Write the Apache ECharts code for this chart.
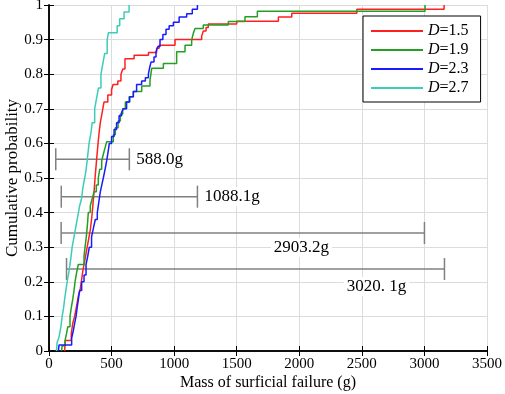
<!DOCTYPE html>
<html>
<head>
<meta charset="utf-8">
<script src="https://cdn.jsdelivr.net/npm/echarts@6/dist/echarts.min.js"></script>
<style>
  html, body { margin: 0; padding: 0; background: #fff; }
  #chart { width: 505px; height: 394px; }
</style>
</head>
<body>
<div id="chart"></div>
<script>
// step points: [mass (g), cumulative probability]
const d15 = [[125,0],[130,0.03],[178,0.05],[190,0.08],[205,0.1],[220,0.13],[235,0.16],[250,0.18],[258,0.2],[270,0.23],[285,0.26],[300,0.29],[315,0.32],[330,0.35],[340,0.38],[348,0.41],[355,0.44],[362,0.47],[368,0.5],[375,0.53],[382,0.56],[392,0.6],[400,0.63],[410,0.66],[425,0.69],[440,0.72],[470,0.74],[500,0.755],[512,0.77],[550,0.78],[575,0.8],[590,0.815],[607,0.845],[680,0.855],[795,0.863],[860,0.875],[880,0.884],[1007,0.9],[1220,0.91],[1233,0.925],[1255,0.935],[1273,0.945],[1500,0.953],[1833,0.965],[1940,0.976],[2460,0.988],[3157,1.0]];
const d19 = [[100,0],[105,0.015],[128,0.03],[140,0.05],[150,0.07],[168,0.1],[178,0.125],[190,0.15],[200,0.175],[208,0.2],[220,0.225],[234,0.25],[280,0.275],[288,0.3],[298,0.33],[306,0.36],[314,0.4],[330,0.42],[345,0.44],[360,0.46],[378,0.48],[394,0.5],[405,0.525],[421,0.55],[435,0.57],[450,0.59],[461,0.605],[514,0.625],[530,0.645],[552,0.665],[570,0.685],[589,0.7],[610,0.72],[640,0.735],[674,0.75],[741,0.766],[807,0.783],[821,0.817],[914,0.831],[1020,0.865],[1087,0.884],[1140,0.899],[1153,0.918],[1167,0.932],[1233,0.942],[1433,0.952],[1566,0.966],[1665,0.982],[3005,1.0]];
const d23 = [[75,0],[80,0.017],[181,0.037],[195,0.06],[205,0.08],[216,0.1],[225,0.125],[235,0.15],[245,0.175],[261,0.2],[280,0.22],[296,0.25],[310,0.275],[322,0.3],[340,0.33],[355,0.355],[370,0.38],[386,0.4],[398,0.43],[410,0.46],[425,0.485],[434,0.5],[448,0.525],[461,0.55],[472,0.575],[482,0.6],[500,0.62],[520,0.64],[540,0.66],[560,0.68],[580,0.69],[594,0.7],[620,0.72],[645,0.735],[674,0.75],[700,0.77],[740,0.78],[770,0.79],[794,0.8],[805,0.82],[815,0.835],[839,0.85],[855,0.865],[870,0.88],[887,0.9],[910,0.915],[935,0.93],[960,0.94],[994,0.95],[1040,0.965],[1100,0.975],[1145,0.988],[1186,1.0]];
const d27 = [[60,0],[65,0.025],[80,0.04],[95,0.07],[105,0.1],[115,0.12],[125,0.15],[135,0.175],[145,0.2],[160,0.23],[175,0.27],[185,0.3],[200,0.33],[215,0.36],[230,0.39],[245,0.42],[260,0.44],[270,0.47],[285,0.5],[295,0.52],[305,0.55],[320,0.6],[335,0.63],[345,0.66],[365,0.7],[380,0.73],[395,0.76],[415,0.8],[430,0.83],[445,0.86],[465,0.9],[475,0.92],[545,0.94],[565,0.96],[600,0.98],[640,1.0]];

const seriesNames = ['D=1.5', 'D=1.9', 'D=2.3', 'D=2.7'];
const seriesColors = ['#ff1f1f', '#22a022', '#1a1aff', '#3ccdb8'];

// range bars
const barLevels = [0.554, 0.446, 0.341, 0.237];
const barStarts = [54, 98, 97, 140];
const barEnds = [642, 1186.1, 3000.2, 3160.1];
const barLabels = ['588.0g', '1088.1g', '2903.2g', '3020. 1g'];

const FONT = '"Liberation Serif", "Times New Roman", serif';

// label placement (px) relative to the right cap
const labelDx = [4, 4, -123, -68];
const labelDy = [0, 0, 5, 8];

const chart = echarts.init(document.getElementById('chart'));

const lineSeries = [d15, d19, d23, d27].map((d, i) => ({
    name: seriesNames[i],
    type: 'line',
    step: 'end',
    data: d,
    symbol: 'none',
    lineStyle: { color: seriesColors[i], width: 1.5 },
    itemStyle: { color: seriesColors[i] },
    z: 3,
}));

const barSeries = {
    type: 'custom',
    data: barLevels.map((y, i) => [barStarts[i], barEnds[i], y]),
    encode: { x: [0, 1], y: 2 },
    z: 2,
    renderItem: (params, api) => {
        const i = params.dataIndex;
        const p0 = api.coord([api.value(0), api.value(2)]);
        const p1 = api.coord([api.value(1), api.value(2)]);
        const st = { stroke: '#808080', lineWidth: 1.5 };
        const h = 11;
        const below = labelDy[i] > 0;
        return {
            type: 'group',
            children: [
                { type: 'line', shape: { x1: p0[0], y1: p0[1], x2: p1[0], y2: p1[1] }, style: st },
                { type: 'line', shape: { x1: p0[0], y1: p0[1] - h, x2: p0[0], y2: p0[1] + h }, style: st },
                { type: 'line', shape: { x1: p1[0], y1: p1[1] - h, x2: p1[0], y2: p1[1] + h }, style: st },
                {
                    type: 'text',
                    x: p1[0] + labelDx[i],
                    y: p1[1] + labelDy[i],
                    style: {
                        text: barLabels[i],
                        font: '17px ' + FONT,
                        fill: '#000',
                        align: below ? 'center' : 'left',
                        verticalAlign: below ? 'top' : 'middle',
                        backgroundColor: '#fff',
                        padding: [1, 3],
                    },
                },
            ],
        };
    },
};

const option = {
    animation: false,
    backgroundColor: '#fff',
    grid: { left: 49, right: 18, top: 5, bottom: 43, containLabel: false, outerBoundsMode: 'none' },
    legend: {
        orient: 'vertical',
        left: 363,
        top: 16,
        padding: [7, 12, 6, 7],
        itemWidth: 52,
        itemHeight: 14,
        itemGap: 3,
        borderColor: '#000',
        borderWidth: 1,
        backgroundColor: '#fff',
        itemStyle: { opacity: 0 },
        data: seriesNames,
        formatter: (name) => '{i|D}' + name.slice(1),
        textStyle: {
            fontFamily: FONT,
            fontSize: 16,
            color: '#000',
            rich: { i: { fontFamily: FONT, fontSize: 16, fontStyle: 'italic', color: '#000' } },
        },
    },
    xAxis: [
        {
            type: 'value',
            min: 0,
            max: 3500,
            interval: 500,
            name: 'Mass of surficial failure (g)',
            nameLocation: 'middle',
            nameGap: 24,
            nameMoveOverlap: false,
            nameTextStyle: { fontFamily: FONT, fontSize: 16, color: '#000' },
            axisLine: { lineStyle: { color: '#000', width: 1.5 } },
            axisTick: { inside: true, length: 5, lineStyle: { color: '#000' } },
            axisLabel: { fontFamily: FONT, fontSize: 15, color: '#000', margin: 6, formatter: (v) => String(v) },
            splitLine: { show: true, lineStyle: { color: '#dcdcdc', width: 1 } },
        },
        {
            type: 'value',
            position: 'top',
            min: 0,
            max: 3500,
            interval: 500,
            axisLine: { show: true, lineStyle: { color: '#000', width: 1.5 } },
            axisTick: { inside: true, length: 5, lineStyle: { color: '#000' } },
            axisLabel: { show: false },
            splitLine: { show: false },
        },
    ],
    yAxis: [
        {
            type: 'value',
            min: 0,
            max: 1,
            interval: 0.1,
            name: 'Cumulative probability',
            nameLocation: 'middle',
            nameGap: 28,
            nameMoveOverlap: false,
            nameTextStyle: { fontFamily: FONT, fontSize: 17, color: '#000' },
            axisLine: { show: true, lineStyle: { color: '#000', width: 1.5 } },
            axisTick: { show: true, inside: true, length: 5, lineStyle: { color: '#000' } },
            axisLabel: { fontFamily: FONT, fontSize: 15, color: '#000', margin: 6 },
            splitLine: { show: true, lineStyle: { color: '#dcdcdc', width: 1 } },
        },
        {
            type: 'value',
            position: 'right',
            min: 0,
            max: 1,
            interval: 0.1,
            axisLine: { show: true, lineStyle: { color: '#000', width: 1.5 } },
            axisTick: { show: true, inside: true, length: 5, lineStyle: { color: '#000' } },
            axisLabel: { show: false },
            splitLine: { show: false },
        },
    ],
    series: [barSeries, ...lineSeries],
};

chart.setOption(option);
</script>
</body>
</html>
